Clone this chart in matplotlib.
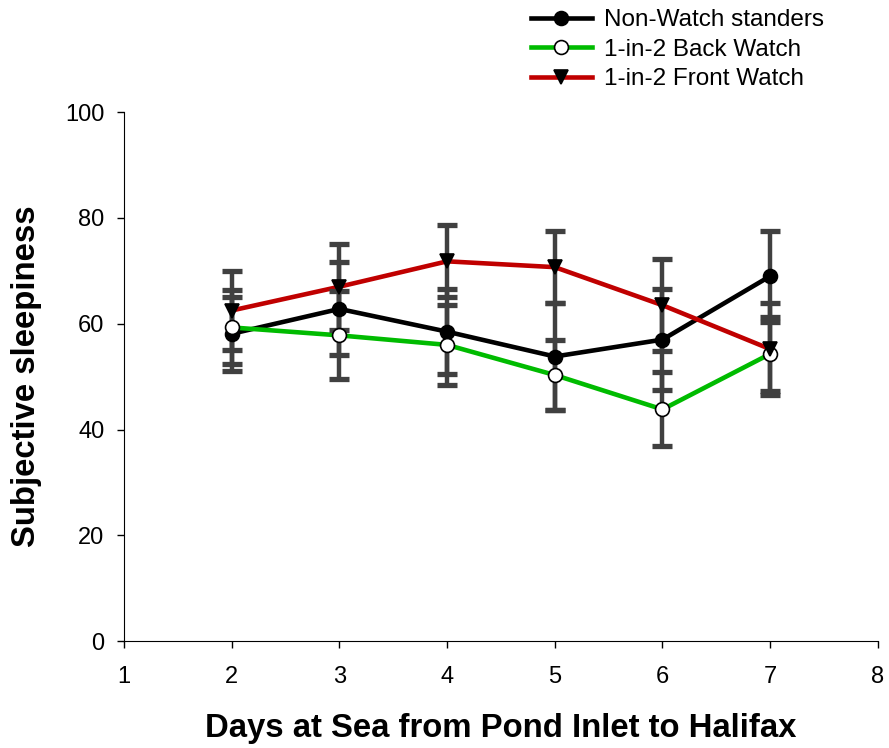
import matplotlib.pyplot as plt

plt.rcParams['font.family'] = ['Liberation Sans', 'DejaVu Sans']

days = [2, 3, 4, 5, 6, 7]

# means
non_watch = [58.1, 62.8, 58.5, 53.8, 57.0, 69.0]
back_watch = [59.3, 57.8, 56.0, 50.3, 43.8, 54.3]
front_watch = [62.5, 67.0, 71.8, 70.7, 63.5, 55.2]

# error bar half-lengths
non_watch_err = [7.0, 8.8, 8.0, 10.1, 9.5, 8.6]
back_watch_err = [7.0, 8.3, 7.5, 6.7, 7.0, 7.0]
front_watch_err = [7.4, 8.1, 6.8, 6.8, 8.7, 8.7]

series = [
    ("Non-Watch standers", non_watch, non_watch_err, "#000000", "o", "#000000"),
    ("1-in-2 Back Watch", back_watch, back_watch_err, "#00bb00", "o", "white"),
    ("1-in-2 Front Watch", front_watch, front_watch_err, "#c00000", "v", "#000000"),
]

fig = plt.figure(figsize=(8.89, 7.48), dpi=100)
ax = fig.add_axes([0.1395, 0.143, 0.848, 0.707])

# lines first, then error bars, then markers on top
for label, y, err, color, marker, face in series:
    ax.plot(days, y, color=color, linewidth=3.3, zorder=2)
for label, y, err, color, marker, face in series:
    ax.errorbar(days, y, yerr=err, fmt="none", ecolor="#404040", elinewidth=3.2,
                capsize=7, capthick=3.8, zorder=3)
handles = []
for label, y, err, color, marker, face in series:
    ax.plot(days, y, linestyle="none", marker=marker, markersize=10,
            markerfacecolor=face, markeredgecolor="black", markeredgewidth=1.2, zorder=4)
    h, = ax.plot([], [], color=color, linewidth=3.3, marker=marker, markersize=10,
                 markerfacecolor=face, markeredgecolor="black", markeredgewidth=1.2)
    handles.append(h)

ax.set_xlim(1, 8)
ax.set_ylim(0, 100)
ax.set_xticks(range(1, 9))
ax.set_yticks(range(0, 101, 20))
ax.spines['top'].set_visible(False)
ax.spines['right'].set_visible(False)
ax.tick_params(direction="out", length=5, width=1, labelsize=17)
ax.tick_params(axis="x", pad=13)
ax.tick_params(axis="y", pad=9)

ax.set_xlabel("Days at Sea from Pond Inlet to Halifax", fontsize=23.7, fontweight="bold")
ax.set_ylabel("Subjective sleepiness", fontsize=23.7, fontweight="bold")
ax.xaxis.set_label_coords(0.5, -0.136)
ax.yaxis.set_label_coords(-0.109, 0.5)

fig.legend(handles=handles, labels=[s[0] for s in series],
           loc="upper left", bbox_to_anchor=(0.5726, 1.017), frameon=False,
           fontsize=17.5, handlelength=2.5, labelspacing=0.31, handletextpad=0.5)

plt.savefig("out.png", dpi=100)
